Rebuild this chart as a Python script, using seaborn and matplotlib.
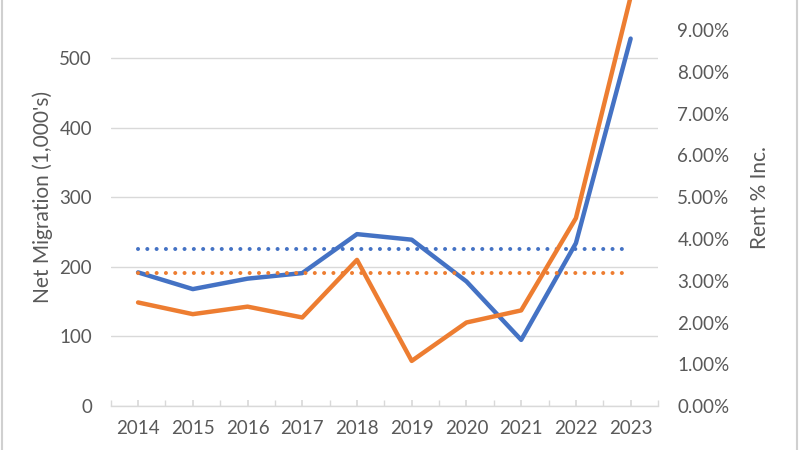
import matplotlib
matplotlib.use("Agg")
import matplotlib.pyplot as plt
from matplotlib.lines import Line2D
from matplotlib.ticker import FuncFormatter, MultipleLocator
import seaborn as sns
import pandas as pd

# Data
years = [2014, 2015, 2016, 2017, 2018, 2019, 2020, 2021, 2022, 2023]
net_migration = [192, 168, 183, 191, 247, 239, 179, 95, 234, 528]   # 1,000's
rent_pct_inc = [2.48, 2.20, 2.38, 2.12, 3.50, 1.08, 2.00, 2.29, 4.50, 9.80]  # %
migration_avg = 225
rent_avg = 3.18
migration_ticks = [0, 100, 200, 300, 400, 500]
rent_ticks = [0, 1, 2, 3, 4, 5, 6, 7, 8, 9]

BLUE = "#4472C4"
ORANGE = "#ED7D31"
GRID = "#D9D9D9"
TEXT = "#595959"

sns.set_theme(style="white")
plt.rcParams["font.family"] = ["Lato", "DejaVu Sans"]

df = pd.DataFrame({"year": years, "migration": net_migration, "rent": rent_pct_inc})
df["migration_avg"] = migration_avg
df["rent_avg"] = rent_avg

fig = plt.figure(figsize=(8, 4.5), dpi=100)
ax = fig.add_axes([110.7 / 800, 44 / 450, 547.3 / 800, 417.5 / 450])
ax2 = ax.twinx()

dot = dict(linestyle=(0, (0.01, 2.3)), dash_capstyle="round", lw=2.9)

sns.lineplot(data=df, x="year", y="migration", ax=ax, color=BLUE, lw=3.2,
             solid_capstyle="round", solid_joinstyle="round")
sns.lineplot(data=df, x="year", y="migration_avg", ax=ax, color=BLUE, **dot)
sns.lineplot(data=df, x="year", y="rent", ax=ax2, color=ORANGE, lw=3.2,
             solid_capstyle="round", solid_joinstyle="round")
sns.lineplot(data=df, x="year", y="rent_avg", ax=ax2, color=ORANGE, **dot)

ax.set_xlim(2013.5, 2023.5)
ax.set_ylim(0, 600)
ax2.set_ylim(0, 10)

ax.set_xticks(years)
ax.set_xticklabels([str(y) for y in years])
ax.xaxis.set_minor_locator(MultipleLocator(1, offset=0.5))
ax.tick_params(axis="x", which="both", direction="in", length=4, color=GRID,
               labelcolor=TEXT, labelsize=13.5, pad=10, bottom=True)
ax.set_yticks(migration_ticks)
ax.tick_params(axis="y", length=0, labelcolor=TEXT, labelsize=13.5, pad=13.5)
ax2.set_yticks(rent_ticks)
ax2.yaxis.set_major_formatter(FuncFormatter(lambda v, p: f"{v:.2f}%"))
ax2.tick_params(axis="y", length=0, labelcolor=TEXT, labelsize=13.5, pad=13.9)

ax.grid(axis="y", color=GRID, lw=1)
ax.set_axisbelow(True)
for s in ["top", "left", "right"]:
    ax.spines[s].set_visible(False)
ax.spines["bottom"].set_color(GRID)
ax.spines["bottom"].set_linewidth(1)
for s in ax2.spines.values():
    s.set_visible(False)

ax.set_xlabel("")
ax.set_ylabel("Net Migration (1,000's)", color=TEXT, fontsize=15)
ax.yaxis.set_label_coords(-0.105, 0.5)
ax2.set_ylabel("Rent % Inc.", color=TEXT, fontsize=15)
ax2.yaxis.set_label_coords(1.168, 0.5)

# thin frame edges of the original screenshot
for xf in (2 / 800, 797 / 800):
    fig.add_artist(Line2D([xf, xf], [0, 1], transform=fig.transFigure, color="#D0D0D0", lw=1.5))

fig.savefig("out.png", dpi=100, facecolor="white")
